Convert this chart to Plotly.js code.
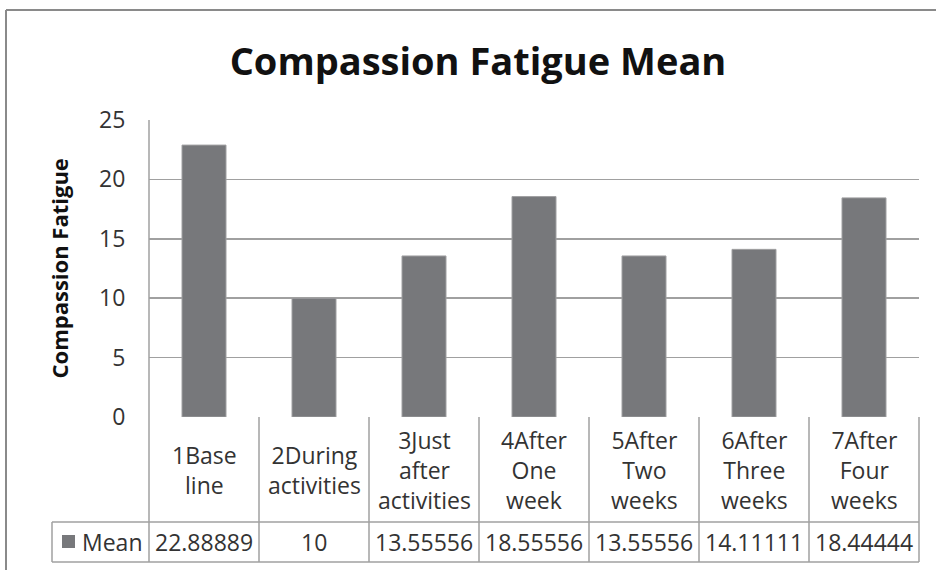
<!DOCTYPE html>
<html>
<head>
<meta charset="utf-8">
<script src="https://cdn.plot.ly/plotly-3.0.1.min.js"></script>
<style>html,body{margin:0;padding:0;background:#fff;}#chart{width:936px;height:570px;}</style>
</head>
<body>
<div id="chart"></div>
<script>
const categories = ['1Base line', '2During activities', '3Just after activities', '4After One week', '5After Two weeks', '6After Three weeks', '7After Four weeks'];
const headerLabels = ['1Base<br>line', '2During<br>activities', '3Just<br>after<br>activities', '4After<br>One<br>week', '5After<br>Two<br>weeks', '6After<br>Three<br>weeks', '7After<br>Four<br>weeks'];
const meanValues = [22.88889, 10, 13.55556, 18.55556, 13.55556, 14.11111, 18.44444];
const seriesName = 'Mean';
const yTicks = [0, 5, 10, 15, 20, 25];

const W = 936, H = 570;
const L = 149, R = 919, T = 120, B = 417;
const plotW = R - L, plotH = B - T;
const px = p => (p - L) / plotW;      // pixel x -> paper x
const py = p => (B - p) / plotH;      // pixel y -> paper y
const n = categories.length;
const boundary = i => i / n;          // paper x of category boundary i

const lineColor = '#a0a0a0';
const txtColor = '#333333';
const font = 'Open Sans, Liberation Sans, sans-serif';

const headerBottom = 522, valueBottom = 562, legendLeft = 52;

const shapes = [];
// outer chart border (left and top)
shapes.push({type:'line', xref:'paper', yref:'paper', x0:px(6), x1:px(6), y0:py(10), y1:py(600), line:{color:'#8a8a8a', width:2}});
shapes.push({type:'line', xref:'paper', yref:'paper', x0:px(6), x1:px(960), y0:py(10), y1:py(10), line:{color:'#8a8a8a', width:2}});
// table horizontal lines
shapes.push({type:'line', xref:'paper', yref:'paper', x0:px(legendLeft), x1:1, y0:py(headerBottom), y1:py(headerBottom), line:{color:lineColor, width:1.5}});
shapes.push({type:'line', xref:'paper', yref:'paper', x0:px(legendLeft), x1:1, y0:py(valueBottom), y1:py(valueBottom), line:{color:lineColor, width:1.5}});
// left axis line extended through table
shapes.push({type:'line', xref:'paper', yref:'paper', x0:0, x1:0, y0:1, y1:py(valueBottom), line:{color:lineColor, width:1.5}});
// legend cell left
shapes.push({type:'line', xref:'paper', yref:'paper', x0:px(legendLeft), x1:px(legendLeft), y0:py(headerBottom), y1:py(valueBottom), line:{color:lineColor, width:1.5}});
// column separators
for (let i = 1; i <= n; i++) {
  shapes.push({type:'line', xref:'paper', yref:'paper', x0:boundary(i), x1:boundary(i), y0:0, y1:py(valueBottom), line:{color:lineColor, width:1.5}});
}
// legend key square
shapes.push({type:'rect', xref:'paper', yref:'paper', x0:px(62), x1:px(75), y0:py(548), y1:py(535), fillcolor:'#77787b', line:{width:0}});

const annotations = [];
categories.forEach((c, i) => {
  annotations.push({xref:'x', yref:'paper', x:c, y:py((B + headerBottom) / 2), text:headerLabels[i], showarrow:false, xanchor:'center', yanchor:'middle', align:'center', font:{family:font, size:23, color:txtColor}});
  annotations.push({xref:'x', yref:'paper', x:c, y:py((headerBottom + valueBottom) / 2), text:String(meanValues[i]), showarrow:false, xanchor:'center', yanchor:'middle', font:{family:font, size:23, color:txtColor}});
});
annotations.push({xref:'paper', yref:'paper', x:px(80), y:py((headerBottom + valueBottom) / 2), text:seriesName, showarrow:false, xanchor:'left', yanchor:'middle', font:{family:font, size:23, color:txtColor}});
// y axis title
annotations.push({xref:'paper', yref:'paper', x:px(58), y:0.5, text:'<b>Compassion Fatigue</b>', textangle:-90, showarrow:false, xanchor:'center', yanchor:'middle', font:{family:font, size:22, color:'#111'}});

const trace = {
  type:'bar', x:categories, y:meanValues, name:seriesName,
  width:0.4,
  marker:{color:'#77787b', line:{color:'#a0a0a2', width:1}},
  hoverinfo:'none'
};

const layout = {
  width:W, height:H,
  margin:{l:L, r:W - R, t:T, b:H - B, pad:0},
  paper_bgcolor:'#fff', plot_bgcolor:'#fff',
  showlegend:false,
  title:{text:'<b>Compassion Fatigue Mean</b>', x:478 / W, xanchor:'center', xref:'container', y:1 - 62 / H, yref:'container', yanchor:'middle', font:{family:font, size:38, color:'#111'}},
  xaxis:{type:'category', range:[-0.5, n - 0.5], showticklabels:false, ticks:'', showgrid:false, zeroline:false, showline:false, fixedrange:true},
  yaxis:{range:[0, 25], tickvals:yTicks, ticktext:yTicks.map(String), showgrid:true, gridcolor:lineColor, gridwidth:1.5, zeroline:false, showline:false, ticks:'outside', ticklen:18, tickcolor:'rgba(0,0,0,0)', tickfont:{family:font, size:23, color:txtColor}, fixedrange:true},
  shapes:shapes,
  annotations:annotations
};

Plotly.newPlot('chart', [trace], layout, {displayModeBar:false, staticPlot:true});
</script>
</body>
</html>
